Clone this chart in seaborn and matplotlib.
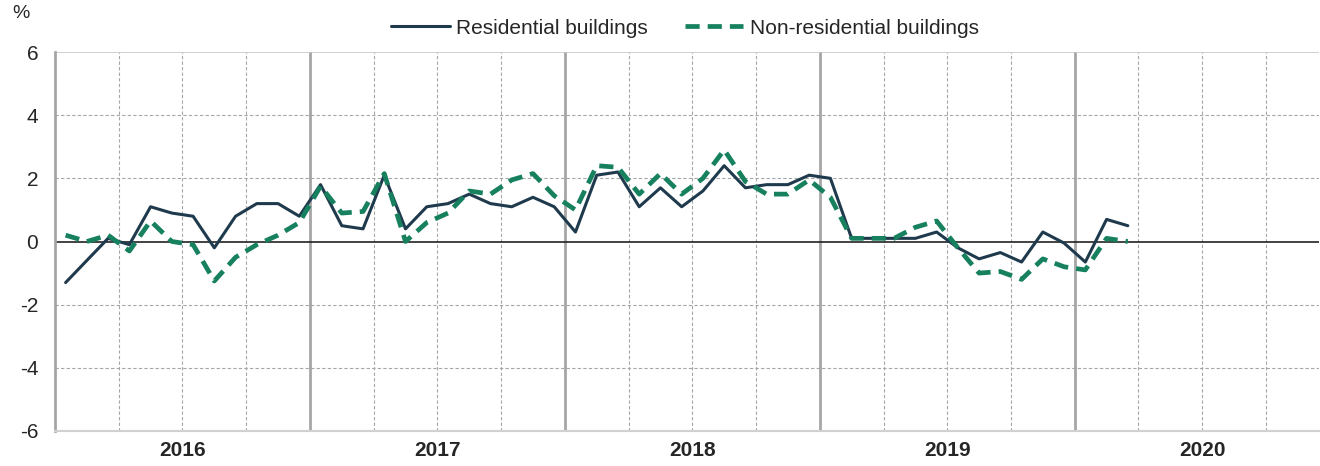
import numpy as np
import pandas as pd
import seaborn as sns
import matplotlib.pyplot as plt

# monthly data, Jan 2016 - Mar 2020 (% change)
months = pd.period_range("2016-01", "2020-03", freq="M")
residential = [-1.3, -0.6, 0.1, -0.1, 1.1, 0.9, 0.8, -0.2, 0.8, 1.2, 1.2, 0.8,
               1.8, 0.5, 0.4, 2.1, 0.4, 1.1, 1.2, 1.5, 1.2, 1.1, 1.4, 1.1,
               0.3, 2.1, 2.2, 1.1, 1.7, 1.1, 1.6, 2.4, 1.7, 1.8, 1.8, 2.1,
               2.0, 0.1, 0.1, 0.1, 0.1, 0.3, -0.2, -0.55, -0.35, -0.65, 0.3, -0.05,
               -0.65, 0.7, 0.5]
non_residential = [0.2, 0.0, 0.2, -0.3, 0.65, 0.0, -0.1, -1.25, -0.5, -0.1, 0.2, 0.6,
                   1.75, 0.9, 0.95, 2.15, 0.0, 0.6, 0.9, 1.6, 1.5, 1.95, 2.15, 1.45,
                   1.0, 2.4, 2.35, 1.5, 2.15, 1.5, 2.0, 2.9, 1.9, 1.5, 1.5, 1.95,
                   1.4, 0.1, 0.1, 0.1, 0.45, 0.65, -0.2, -1.0, -0.95, -1.2, -0.55, -0.8,
                   -0.9, 0.1, 0.0]
years = ["2016", "2017", "2018", "2019", "2020"]
y_ticks = [-6, -4, -2, 0, 2, 4, 6]

# month position on a numeric axis (centre of each month)
df = pd.DataFrame({
    "pos": (months.year - 2016) * 12 + months.month - 0.5,
    "Residential buildings": residential,
    "Non-residential buildings": non_residential,
})

sns.set_theme(style="white")
plt.rcParams['font.family'] = ['Liberation Sans', 'DejaVu Sans']
plt.rcParams['axes.unicode_minus'] = False

fig = plt.figure(figsize=(13.2, 4.66), dpi=100)
ax = fig.add_axes([55 / 1320, 35 / 466, (1319 - 55) / 1320, (431 - 52) / 466])

sns.lineplot(data=df, x="pos", y="Residential buildings", ax=ax,
             color="#1f3a4d", linewidth=2.2, label="Residential buildings")
sns.lineplot(data=df, x="pos", y="Non-residential buildings", ax=ax,
             color="#16805f", linewidth=3.4, dashes=False,
             label="Non-residential buildings")
ax.lines[1].set_dashes((3, 1.7))

ax.set_xlim(0, 59.5)
ax.set_ylim(-6, 6)
ax.set_yticks(y_ticks)
ax.set_yticklabels([str(v) for v in y_ticks])

# quarter grid lines (dashed), year separators (solid)
for q in range(3, 60, 3):
    if q % 12 == 0:
        ax.axvline(q, color="#a6a6a6", lw=2, zorder=0)
    else:
        ax.axvline(q, color="#a6a6a6", lw=0.8, ls=(0, (3, 2)), zorder=0)
for yv in [-4, -2, 2, 4]:
    ax.axhline(yv, color="#a6a6a6", lw=0.8, ls=(0, (3, 2)), zorder=0)
ax.axhline(6, color="#c8c8c8", lw=1.2, zorder=0)
ax.axhline(0, color="#222222", lw=1.2, zorder=1)

ax.set_xticks([6, 18, 30, 42, 54])
ax.set_xticklabels(years, fontsize=15, fontweight="bold")
ax.tick_params(axis="x", length=0, pad=7)
ax.tick_params(axis="y", length=0, labelsize=15, pad=12)
ax.set_xlabel("")
ax.set_ylabel("")

for s in ["top", "right"]:
    ax.spines[s].set_visible(False)
ax.spines["left"].set_color("#a6a6a6")
ax.spines["left"].set_linewidth(2)
ax.spines["bottom"].set_color("#d0d0d0")
ax.spines["bottom"].set_linewidth(1.5)

fig.text(12 / 1320, 1 - 14 / 466, "%", fontsize=14, va="center", ha="left")

ax.legend(loc="center", bbox_to_anchor=(685 / 1320, 1 - 28 / 466),
          bbox_transform=fig.transFigure, ncol=2, frameon=False, fontsize=15,
          handlelength=2.8, handletextpad=0.3, columnspacing=1.8)

plt.savefig("out.png", dpi=100)
